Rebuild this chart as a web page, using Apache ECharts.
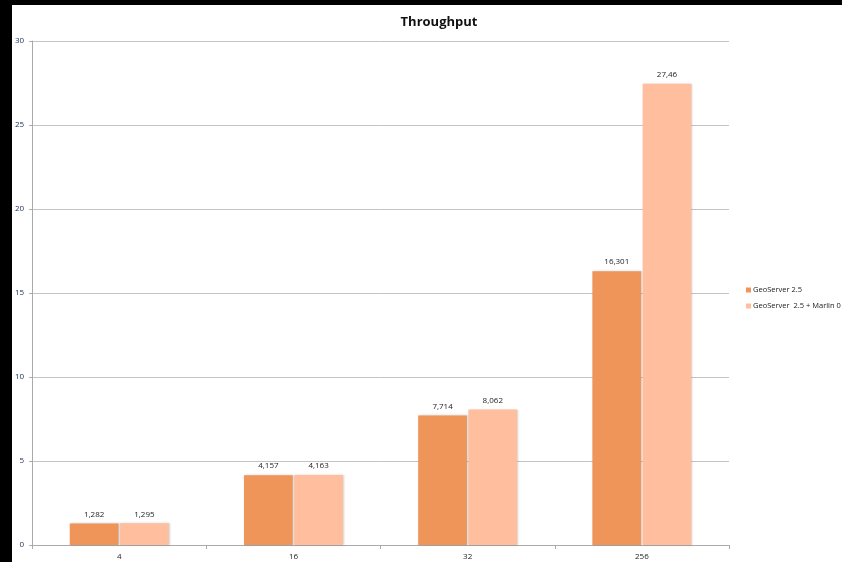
<!DOCTYPE html>
<html>
<head>
<meta charset="utf-8">
<script src="https://cdn.jsdelivr.net/npm/echarts@6/dist/echarts.min.js"></script>
<style>
  html, body { margin: 0; padding: 0; background: #000; width: 842px; height: 562px; overflow: hidden; }
  #chart { position: absolute; left: 12px; top: 5px; width: 830px; height: 557px; background: #fff; }
</style>
</head>
<body>
<div id="chart"></div>
<script>
// Concurrent threads on the x axis
const categories = ['4', '16', '32', '256'];
// Throughput per configuration
const geoserver = [1.282, 4.157, 7.714, 16.301];
const geoserverMarlin = [1.295, 4.163, 8.062, 27.46];
const seriesNames = ['GeoServer 2.5', 'GeoServer  2.5 + Marlin 0'];
const yTicks = { min: 0, max: 30, interval: 5 };

const font = 'Open Sans';
const decimalComma = v => String(v).replace('.', ',');

const chart = echarts.init(document.getElementById('chart'));

const barLabel = {
  show: true,
  position: 'top',
  distance: 5,
  fontFamily: font,
  fontSize: 8,
  color: '#222',
  formatter: p => decimalComma(p.value)
};

chart.setOption({
  animation: false,
  backgroundColor: '#fff',
  title: {
    text: 'Throughput',
    left: 422,
    top: 6,
    textAlign: 'center',
    textStyle: { fontFamily: font, fontSize: 13, fontWeight: 'bold', color: '#111' }
  },
  legend: {
    orient: 'vertical',
    left: 729,
    top: 276,
    itemWidth: 5,
    itemHeight: 5,
    itemGap: 8,
    icon: 'rect',
    textStyle: { fontFamily: font, fontSize: 7.5, color: '#222', padding: [0, 0, 0, -3] },
    data: seriesNames
  },
  grid: { left: 19, right: 113, top: 36, bottom: 17, containLabel: false },
  xAxis: {
    type: 'category',
    data: categories,
    axisLine: { lineStyle: { color: '#aaa', width: 1 } },
    axisTick: { show: true, length: 4, lineStyle: { color: '#aaa' } },
    axisLabel: { fontFamily: font, fontSize: 8, color: '#222', margin: 8 }
  },
  yAxis: {
    type: 'value',
    min: yTicks.min,
    max: yTicks.max,
    interval: yTicks.interval,
    axisLine: { show: true, lineStyle: { color: '#aaa', width: 1 } },
    axisTick: { show: true, length: 3, lineStyle: { color: '#aaa' } },
    axisLabel: { fontFamily: font, fontSize: 8, color: '#1c2b5a', margin: 8 },
    splitLine: { lineStyle: { color: '#c4c4c4', width: 1 } }
  },
  series: [
    {
      name: seriesNames[0],
      type: 'bar',
      data: geoserver,
      barWidth: '28%',
      barGap: '3%',
      itemStyle: { color: '#f0955a', shadowColor: 'rgba(0,0,0,0.18)', shadowBlur: 2, shadowOffsetX: 1 },
      label: barLabel
    },
    {
      name: seriesNames[1],
      type: 'bar',
      data: geoserverMarlin,
      barWidth: '28%',
      itemStyle: { color: '#ffbe9e', shadowColor: 'rgba(0,0,0,0.18)', shadowBlur: 2, shadowOffsetX: 1 },
      label: barLabel
    }
  ]
});
</script>
</body>
</html>
